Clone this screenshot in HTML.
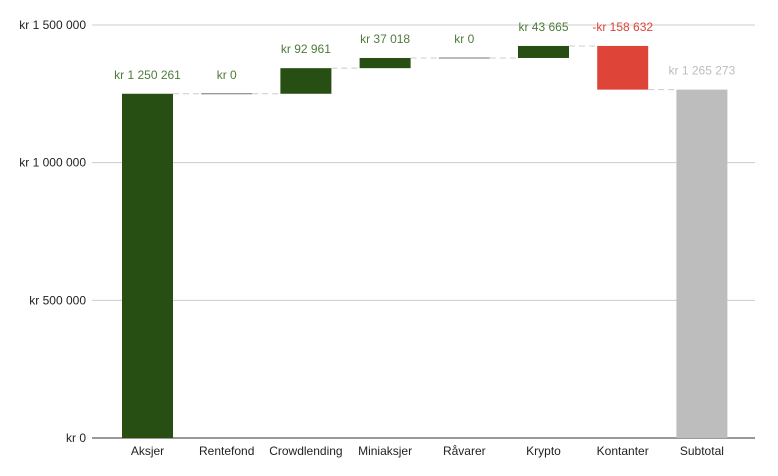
<!DOCTYPE html>
<html><head><meta charset="utf-8"><style>
body{margin:0;background:#fff}
svg{font-family:"Liberation Sans",Arial,sans-serif;display:block}
</style></head><body>
<svg id="chart" width="778" height="476" viewBox="0 0 778 476"></svg>
<script>
const categories=["Aksjer","Rentefond","Crowdlending","Miniaksjer","Råvarer","Krypto","Kontanter","Subtotal"];
const values=[1250261,0,92961,37018,0,43665,-158632,1265273];
const labels=["kr 1 250 261","kr   0","kr  92 961","kr  37 018","kr   0","kr  43 665","-kr  158 632","kr 1 265 273"];
const isTotal=[false,false,false,false,false,false,false,true];
const yTicks=[0,500000,1000000,1500000];
const yTickLabels=["kr   0","kr  500 000","kr 1 000 000","kr 1 500 000"];
const svg=document.getElementById('chart');
const NS='http://www.w3.org/2000/svg';
const y0=438,y1=25,vmax=1500000,left=92,right=755;
const step=79.2,first=147.5,bw=51;
function y(v){return y0-(v/vmax)*(y0-y1);}
function x(i){return first+i*step;}
function mk(t,a,p){const e=document.createElementNS(NS,t);for(const k in a)e.setAttribute(k,a[k]);(p||svg).appendChild(e);return e;}
yTicks.forEach((t,i)=>{
 const l=mk('line',{x1:left,x2:right,y1:y(t),y2:y(t),stroke:i==0?'#333':'#ccc','stroke-width':1});
 
 
 const tx=mk('text',{x:86,y:y(t)+4,'text-anchor':'end','font-size':12,fill:'#222','xml:space':'preserve'});
 tx.textContent=yTickLabels[i];
 
 
});
let cum=0;
categories.forEach((c,i)=>{
 let a,b,col,lc;
 if(isTotal[i]){a=0;b=values[i];col='#bdbdbd';lc='#bdbdbd';}
 else{a=cum;b=cum+values[i];col=values[i]<0?'#de4438':'#274e13';lc=values[i]<0?'#de4438':'#4f7a3a';}
 const top=y(Math.max(a,b)),bot=y(Math.min(a,b));
 if(values[i]===0){
  const l=mk('line',{x1:x(i)-bw/2,x2:x(i)+bw/2,y1:top,y2:top,stroke:'#777','stroke-width':1});
  
  
 }else{
  const r=mk('rect',{x:x(i)-bw/2,y:top,width:bw,height:bot-top,fill:col});
  
  
 }
 const t=mk('text',{x:x(i),y:top-15,'text-anchor':'middle','font-size':12,fill:lc,'xml:space':'preserve'});
 t.textContent=labels[i];
 
 
 const end=isTotal[i]?b:b;
 if(i<categories.length-1){
  const d=mk('line',{x1:x(i)+bw/2,x2:x(i+1)-bw/2,y1:y(end),y2:y(end),stroke:'#ccc','stroke-dasharray':'6,4','stroke-width':1});
  
  
 }
 if(!isTotal[i])cum=b;
 const xl=mk('text',{x:x(i),y:455,'text-anchor':'middle','font-size':12,fill:'#222'});
 xl.textContent=c;
 
 
});
</script>
</body></html>
